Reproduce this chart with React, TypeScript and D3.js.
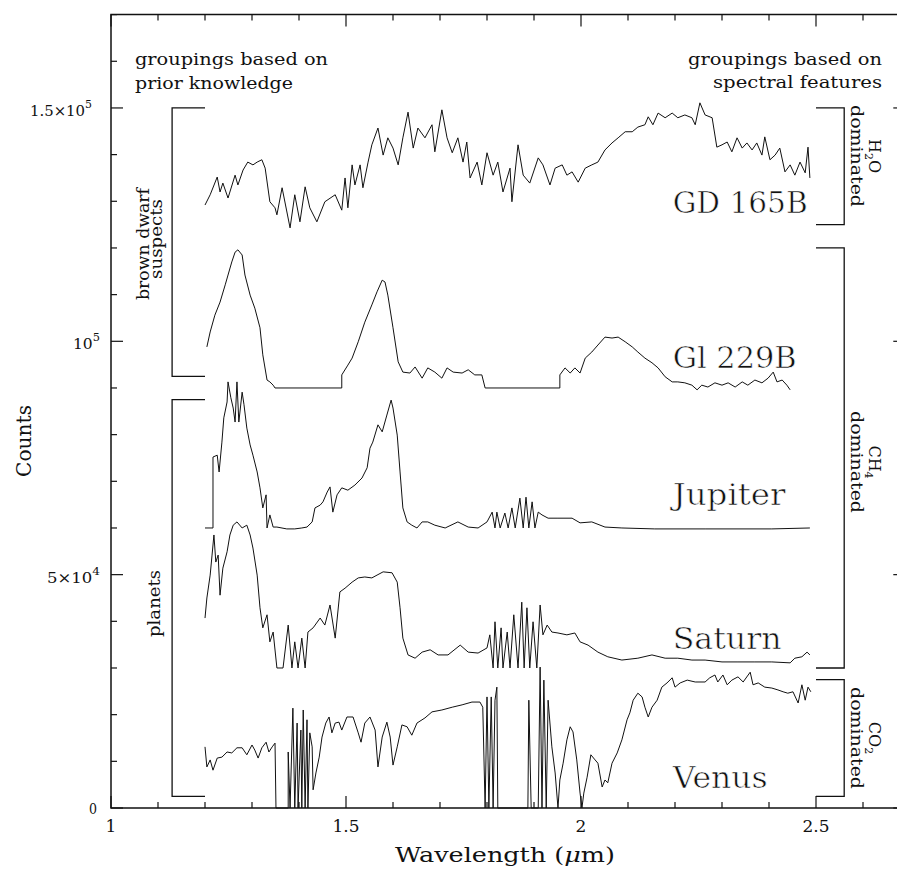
import * as React from "react";
import * as d3 from "d3";

// wavelength (micron), counts (in units of 1000)
const gd165b: [number, number][] = [
  [1.200, 129.2], [1.211, 131.4], [1.226, 135.2], [1.232, 132.0], [1.238, 133.9], [1.249, 130.7],
  [1.264, 135.6], [1.270, 133.5], [1.281, 136.7], [1.291, 138.4], [1.302, 137.8], [1.311, 138.4],
  [1.321, 138.9], [1.328, 137.1], [1.338, 129.9], [1.349, 128.6], [1.353, 127.1], [1.364, 132.9],
  [1.381, 124.3], [1.391, 131.4], [1.402, 125.6], [1.413, 133.1], [1.423, 128.6], [1.438, 125.6],
  [1.455, 129.9], [1.477, 131.4], [1.491, 128.1], [1.498, 135.0], [1.504, 128.6], [1.513, 137.8],
  [1.519, 133.5], [1.530, 137.8], [1.536, 132.9], [1.547, 138.4], [1.555, 142.1], [1.568, 145.7],
  [1.579, 139.9], [1.589, 143.6], [1.600, 141.4], [1.611, 137.8], [1.621, 143.6], [1.632, 149.1],
  [1.643, 141.4], [1.653, 145.7], [1.668, 143.6], [1.683, 146.4], [1.689, 140.6], [1.704, 149.6],
  [1.715, 143.6], [1.726, 140.4], [1.738, 143.6], [1.749, 138.4], [1.757, 142.7], [1.764, 135.0],
  [1.779, 138.4], [1.789, 133.5], [1.800, 140.4], [1.813, 135.6], [1.823, 138.4], [1.834, 132.0],
  [1.849, 137.1], [1.853, 129.9], [1.866, 142.1], [1.877, 135.6], [1.891, 133.9], [1.909, 139.3],
  [1.919, 137.8], [1.934, 133.5], [1.945, 137.1], [1.960, 137.8], [1.970, 135.6], [1.981, 136.3],
  [1.994, 134.1], [2.009, 137.1], [2.023, 137.8], [2.036, 138.4], [2.051, 141.0], [2.066, 142.5],
  [2.079, 143.6], [2.094, 144.9], [2.109, 144.9], [2.121, 145.9], [2.136, 146.4], [2.143, 148.1],
  [2.153, 146.4], [2.164, 148.9], [2.179, 147.9], [2.194, 148.9], [2.206, 147.9], [2.221, 148.5],
  [2.236, 147.9], [2.243, 146.4], [2.253, 151.1], [2.264, 148.5], [2.279, 147.9], [2.289, 141.6],
  [2.300, 142.1], [2.311, 142.7], [2.321, 140.6], [2.332, 143.6], [2.343, 141.4], [2.353, 142.5],
  [2.364, 141.0], [2.374, 142.5], [2.385, 139.9], [2.391, 143.8], [2.402, 138.9], [2.413, 139.9],
  [2.423, 141.4], [2.434, 136.3], [2.445, 137.8], [2.455, 135.6], [2.466, 138.4], [2.477, 136.1],
  [2.483, 141.6], [2.487, 135.0],
];

const gl229b: [number, number][] = [
  [1.204, 98.8], [1.211, 102.0], [1.221, 105.6], [1.232, 108.4], [1.243, 112.1], [1.249, 114.2],
  [1.257, 117.0], [1.264, 119.1], [1.270, 119.6], [1.279, 118.5], [1.285, 114.2], [1.296, 109.9],
  [1.306, 107.1], [1.317, 102.9], [1.323, 97.1], [1.332, 91.7], [1.338, 91.3], [1.345, 90.6],
  [1.349, 90.0], [1.491, 90.0], [1.491, 92.8], [1.504, 94.9], [1.513, 96.4], [1.526, 99.9],
  [1.540, 104.1], [1.555, 107.8], [1.566, 110.6], [1.577, 113.1], [1.583, 112.7], [1.589, 109.9],
  [1.600, 102.9], [1.611, 95.6], [1.621, 93.4], [1.636, 93.2], [1.647, 94.5], [1.662, 92.1],
  [1.674, 94.3], [1.689, 93.4], [1.704, 92.1], [1.715, 94.3], [1.728, 93.4], [1.747, 93.2],
  [1.760, 93.9], [1.774, 92.8], [1.789, 92.8], [1.796, 90.0], [1.955, 90.0], [1.955, 92.8],
  [1.966, 94.3], [1.977, 93.2], [1.987, 94.3], [1.998, 93.2], [2.009, 96.4], [2.023, 97.7],
  [2.036, 99.2], [2.051, 100.9], [2.066, 100.7], [2.079, 100.9], [2.094, 99.9], [2.109, 98.8],
  [2.121, 97.7], [2.136, 96.4], [2.151, 95.4], [2.164, 94.3], [2.179, 92.4], [2.194, 91.3],
  [2.206, 91.3], [2.221, 91.1], [2.236, 90.6], [2.247, 89.6], [2.257, 90.6], [2.270, 90.2],
  [2.285, 91.1], [2.300, 90.6], [2.313, 91.1], [2.328, 90.2], [2.343, 91.3], [2.355, 90.6],
  [2.370, 91.7], [2.385, 91.1], [2.398, 92.1], [2.409, 93.4], [2.417, 91.3], [2.428, 91.7],
  [2.438, 90.6], [2.445, 89.6],
];

const jupiter: [number, number][] = [
  [1.200, 60.0], [1.217, 60.0], [1.217, 75.2], [1.226, 75.6], [1.230, 72.0], [1.236, 78.4],
  [1.240, 83.6], [1.247, 87.0], [1.249, 91.3], [1.255, 87.9], [1.260, 85.7], [1.264, 82.7],
  [1.268, 91.3], [1.272, 82.7], [1.279, 89.1], [1.283, 86.4], [1.289, 81.4], [1.296, 77.8],
  [1.302, 75.6], [1.311, 72.0], [1.317, 68.6], [1.323, 64.3], [1.330, 67.1], [1.332, 60.0],
  [1.338, 62.8], [1.345, 60.2], [1.353, 60.2], [1.374, 59.8], [1.391, 59.8], [1.406, 60.0],
  [1.417, 60.2], [1.428, 61.3], [1.434, 64.3], [1.445, 64.9], [1.451, 65.6], [1.460, 67.7],
  [1.466, 68.8], [1.472, 63.4], [1.481, 67.1], [1.491, 68.6], [1.504, 68.1], [1.519, 69.2],
  [1.534, 70.7], [1.545, 72.9], [1.551, 77.1], [1.557, 78.4], [1.568, 82.1], [1.577, 80.6],
  [1.587, 84.2], [1.596, 87.4], [1.600, 85.7], [1.609, 79.9], [1.615, 72.0], [1.621, 64.3],
  [1.630, 61.3], [1.640, 60.6], [1.651, 60.0], [1.662, 61.3], [1.674, 61.3], [1.689, 60.6],
  [1.711, 60.0], [1.738, 61.3], [1.760, 60.2], [1.781, 60.0], [1.800, 61.3], [1.811, 63.4],
  [1.817, 60.0], [1.821, 63.4], [1.828, 60.0], [1.838, 63.2], [1.845, 60.0], [1.853, 64.3],
  [1.860, 60.0], [1.870, 66.4], [1.877, 60.0], [1.883, 66.6], [1.889, 60.0], [1.896, 65.6],
  [1.902, 60.0], [1.909, 63.4], [1.917, 62.8], [1.930, 62.1], [1.951, 62.1], [1.981, 62.1],
  [1.998, 61.1], [2.023, 61.3], [2.051, 60.2], [2.087, 60.0], [2.157, 59.8], [2.264, 59.8],
  [2.406, 59.8], [2.487, 60.0],
];

const saturn: [number, number][] = [
  [1.200, 40.7], [1.204, 45.0], [1.211, 49.9], [1.215, 54.2], [1.219, 58.5], [1.223, 52.7],
  [1.228, 54.2], [1.232, 45.6], [1.238, 51.4], [1.247, 54.9], [1.253, 58.5], [1.260, 60.6],
  [1.268, 61.3], [1.279, 60.0], [1.289, 60.6], [1.296, 58.5], [1.302, 55.7], [1.311, 49.9],
  [1.317, 42.9], [1.323, 38.6], [1.332, 41.4], [1.338, 35.6], [1.345, 37.7], [1.353, 30.0],
  [1.366, 30.0], [1.377, 39.2], [1.385, 30.0], [1.391, 35.6], [1.398, 30.0], [1.406, 36.4],
  [1.413, 30.0], [1.419, 37.7], [1.430, 38.6], [1.445, 40.7], [1.455, 39.2], [1.466, 43.5],
  [1.477, 36.4], [1.487, 46.3], [1.498, 47.1], [1.513, 48.4], [1.526, 49.3], [1.540, 49.5],
  [1.555, 49.3], [1.566, 49.9], [1.579, 50.6], [1.598, 50.4], [1.609, 48.4], [1.615, 42.9],
  [1.621, 36.4], [1.632, 32.8], [1.647, 32.1], [1.662, 33.4], [1.679, 33.9], [1.696, 32.8],
  [1.717, 32.8], [1.743, 34.9], [1.760, 33.4], [1.781, 33.2], [1.800, 34.3], [1.806, 37.1],
  [1.813, 30.0], [1.817, 39.9], [1.823, 30.0], [1.830, 38.6], [1.834, 30.0], [1.843, 37.7],
  [1.849, 30.0], [1.857, 41.4], [1.866, 30.0], [1.874, 44.1], [1.879, 30.0], [1.885, 42.9],
  [1.891, 30.0], [1.898, 39.9], [1.906, 30.0], [1.913, 43.5], [1.919, 37.1], [1.928, 39.2],
  [1.938, 37.7], [1.951, 37.5], [1.970, 37.1], [1.987, 37.5], [1.998, 35.6], [2.015, 34.9],
  [2.036, 33.4], [2.057, 32.4], [2.087, 31.7], [2.121, 32.1], [2.151, 32.8], [2.179, 32.1],
  [2.206, 32.1], [2.236, 31.7], [2.264, 31.7], [2.300, 31.3], [2.334, 31.3], [2.370, 31.3],
  [2.406, 31.3], [2.445, 31.1], [2.455, 32.1], [2.470, 32.4], [2.481, 33.4], [2.487, 32.8],
];

const venus: [number, number][] = [
  [1.200, 13.1], [1.204, 8.8], [1.211, 10.3], [1.217, 8.1], [1.226, 10.7], [1.236, 10.9],
  [1.247, 12.0], [1.257, 11.8], [1.268, 12.9], [1.279, 12.9], [1.289, 11.4], [1.300, 13.5],
  [1.306, 12.4], [1.313, 10.7], [1.321, 12.9], [1.330, 14.1], [1.336, 12.0], [1.343, 13.1],
  [1.349, 13.9], [1.351, 0], [1.377, 0], [1.377, 12.0], [1.381, 0], [1.387, 21.4], [1.391, 0],
  [1.396, 18.2], [1.398, 0], [1.404, 16.7], [1.406, 0], [1.409, 21.0], [1.413, 0], [1.417, 18.9],
  [1.419, 0], [1.423, 16.1], [1.428, 13.1], [1.430, 3.9], [1.436, 7.5], [1.443, 10.9],
  [1.449, 15.2], [1.457, 18.2], [1.464, 19.5], [1.470, 16.1], [1.477, 18.2], [1.485, 18.4],
  [1.491, 16.7], [1.502, 19.5], [1.515, 19.5], [1.526, 16.1], [1.532, 14.1], [1.540, 18.2],
  [1.551, 19.5], [1.562, 16.7], [1.568, 8.8], [1.577, 15.2], [1.587, 18.4], [1.594, 15.2],
  [1.600, 9.2], [1.609, 13.1], [1.619, 17.8], [1.630, 17.4], [1.640, 15.6], [1.651, 18.2],
  [1.668, 19.3], [1.683, 20.6], [1.704, 21.0], [1.726, 21.6], [1.747, 22.1], [1.768, 22.7],
  [1.785, 22.7], [1.791, 21.6], [1.796, 0], [1.800, 23.8], [1.804, 0], [1.809, 23.8],
  [1.813, 0], [1.817, 23.1], [1.821, 25.9], [1.823, 0], [1.887, 0], [1.889, 23.1], [1.894, 0],
  [1.909, 0], [1.913, 30.2], [1.917, 0], [1.921, 27.4], [1.926, 0], [1.930, 23.1],
  [1.938, 13.1], [1.945, 7.5], [1.951, 0], [1.955, 6.0], [1.962, 9.6], [1.970, 14.6],
  [1.977, 17.4], [1.983, 16.3], [1.991, 10.3], [1.998, 3.2], [2.002, 0], [2.006, 3.2],
  [2.013, 6.6], [2.021, 11.4], [2.030, 10.3], [2.036, 9.6], [2.045, 4.5], [2.051, 6.0],
  [2.057, 5.4], [2.066, 9.6], [2.077, 11.8], [2.087, 14.6], [2.098, 18.9], [2.104, 20.4],
  [2.111, 23.1], [2.121, 24.6], [2.130, 23.8], [2.136, 21.6], [2.143, 19.5], [2.151, 21.6],
  [2.162, 23.1], [2.172, 25.9], [2.183, 26.8], [2.194, 27.9], [2.200, 25.9], [2.211, 26.8],
  [2.226, 27.4], [2.243, 27.0], [2.264, 27.0], [2.274, 27.9], [2.285, 28.5], [2.291, 27.0],
  [2.302, 28.5], [2.311, 26.4], [2.321, 27.4], [2.334, 28.1], [2.345, 27.0], [2.360, 29.1],
  [2.366, 26.4], [2.377, 26.8], [2.391, 25.9], [2.406, 25.7], [2.419, 25.3], [2.430, 24.9],
  [2.440, 24.6], [2.451, 24.9], [2.462, 22.5], [2.470, 26.4], [2.477, 23.1], [2.483, 25.9],
  [2.489, 24.9],
];

const seriesNames = ["GD 165B", "Gl 229B", "Jupiter", "Saturn", "Venus"];
const seriesData = [gd165b, gl229b, jupiter, saturn, venus];
// where each name sits: wavelength, counts (thousands), label width
const labelWave = [2.195, 2.195, 2.195, 2.195, 2.195];
const labelCounts = [127.5, 94.3, 64.9, 34.0, 4.3];
const labelWidth = [135, 124, 113, 109, 95];

const xMajor = [1, 1.5, 2, 2.5];
const xMajorLabels = ["1", "1.5", "2", "2.5"];
const yMajor = [0, 50, 100, 150];
const yMajorLabels: [string, string][] = [["0", ""], ["5×10", "4"], ["10", "5"], ["1.5×10", "5"]];
// label extents: right end, width
const yLabelEnd = [97, 100, 100, 92];
const yLabelWidth = [8, 53, 27, 62];

const font = "'DejaVu Serif', serif";
const ink = "#111";

export default function App() {
  const width = 897;
  const height = 871;

  const x = d3.scaleLinear().domain([1, 2.69]).range([111, 111 + 1.69 * 470]);
  const y = d3.scaleLinear().domain([0, 170]).range([808, 808 - 170 * 4.667]);

  const line = d3.line<[number, number]>().x(d => x(d[0])).y(d => y(d[1]));

  const xMinor = d3.range(10, 27).map(v => v / 10);
  const yMinor = d3.range(0, 171, 10);

  const [x0, x1] = x.range();
  const [y0, y1] = y.range();

  // bracket helpers
  const leftBracket = (top: number, bottom: number) =>
    `M${x(1.2)},${y(top)}H${x(1.13)}V${y(bottom)}H${x(1.2)}`;
  const rightBracket = (top: number, bottom: number) =>
    `M${x(2.5)},${y(top)}H${x(2.56)}V${y(bottom)}H${x(2.5)}`;

  // thin white outline makes the heavy serif look lighter, like the plotter font
  const thin = { stroke: "#fff", strokeWidth: 0.6 };

  return (
    <svg width={width} height={height} style={{ position: "absolute", left: 0, top: 0, background: "#fff", overflow: "hidden" }}
      fontFamily={font}>
      <rect x={0} y={0} width={width} height={height} fill="#fff" />

      {/* frame: left, top, bottom; the right edge lies past the picture */}
      <path d={`M${x1},${y1}H${x0}V${y0}H${x1}`} fill="none" stroke={ink} strokeWidth={1.5} />

      {/* x ticks bottom and top */}
      {xMinor.map((v, i) => {
        const major = xMajor.some(m => Math.abs(m - v) < 1e-6);
        const len = major ? 12 : 6;
        return (
          <g key={"xt" + i} stroke={ink} strokeWidth={1.2}>
            <line x1={x(v)} x2={x(v)} y1={y0} y2={y0 - len} />
            <line x1={x(v)} x2={x(v)} y1={y1} y2={y1 + len} />
          </g>
        );
      })}
      {yMinor.map((v, i) => {
        const major = yMajor.includes(v);
        const len = major ? 12 : 6;
        return (
          <g key={"yt" + i} stroke={ink} strokeWidth={1.2}>
            <line x1={x0} x2={x0 + len} y1={y(v)} y2={y(v)} />
            <line x1={x1} x2={x1 - len} y1={y(v)} y2={y(v)} />
          </g>
        );
      })}

      {/* tick labels */}
      {xMajor.map((v, i) => (
        <text key={"xl" + i} x={x(v)} y={832} textAnchor="middle" fontSize={17} fill={ink}>
          {xMajorLabels[i]}
        </text>
      ))}
      {yMajor.map((v, i) => (
        <text key={"yl" + i} x={yLabelEnd[i] - yLabelWidth[i]} y={y(v) + (v === 0 ? 6 : 8)} fontSize={15} fill={ink}
          textLength={yLabelWidth[i]} lengthAdjust="spacingAndGlyphs">
          {yMajorLabels[i][0]}
          {yMajorLabels[i][1] && (
            <tspan fontSize={11} dy={-8}>{yMajorLabels[i][1]}</tspan>
          )}
        </text>
      ))}

      {/* axis titles */}
      <text transform="translate(31,441) rotate(-90)" textAnchor="middle" fontSize={21} fill={ink}
        textLength={72} lengthAdjust="spacingAndGlyphs">Counts</text>
      <text x={395} y={862} fontSize={21} fill={ink} textLength={220} lengthAdjust="spacingAndGlyphs">
        Wavelength (<tspan fontStyle="italic">μ</tspan>m)
      </text>

      {/* spectra */}
      {seriesData.map((d, i) => (
        <path key={"s" + i} d={line(d) ?? ""} fill="none" stroke={ink} strokeWidth={1} strokeLinejoin="round" />
      ))}

      {/* spectrum names */}
      {seriesNames.map((n, i) => (
        <text key={"n" + i} x={x(labelWave[i])} y={y(labelCounts[i])} fontSize={29} fill={ink} {...thin}
          textLength={labelWidth[i]} lengthAdjust="spacingAndGlyphs">
          {n}
        </text>
      ))}

      {/* groupings */}
      <g stroke={ink} strokeWidth={1.3} fill="none">
        <path d={leftBracket(150, 92.5)} />
        <path d={leftBracket(87.5, 2.5)} />
        <path d={rightBracket(150, 125)} />
        <path d={rightBracket(120, 30)} />
        <path d={rightBracket(27.5, 2.5)} />
      </g>

      <g fontSize={16} fill={ink}>
        <text x={135} y={65} textLength={193} lengthAdjust="spacingAndGlyphs">groupings based on</text>
        <text x={135} y={89} textLength={158} lengthAdjust="spacingAndGlyphs">prior knowledge</text>
        <text x={688} y={65} textLength={194} lengthAdjust="spacingAndGlyphs">groupings based on</text>
        <text x={713} y={88} textLength={169} lengthAdjust="spacingAndGlyphs">spectral features</text>

        <text transform="translate(149,300) rotate(-90)" textLength={112} lengthAdjust="spacingAndGlyphs">brown dwarf</text>
        <text transform="translate(162,279) rotate(-90)" textLength={80} lengthAdjust="spacingAndGlyphs">suspects</text>
        <text transform="translate(160,637) rotate(-90)" textLength={67} lengthAdjust="spacingAndGlyphs">planets</text>

        <text transform="translate(869,156) rotate(90)" textAnchor="middle">
          H<tspan fontSize={11} dy={4}>2</tspan><tspan dy={-4}>O</tspan>
        </text>
        <text transform="translate(851,105) rotate(90)" textLength={102} lengthAdjust="spacingAndGlyphs">dominated</text>
        <text transform="translate(869,462) rotate(90)" textAnchor="middle">
          CH<tspan fontSize={11} dy={4}>4</tspan>
        </text>
        <text transform="translate(851,411) rotate(90)" textLength={102} lengthAdjust="spacingAndGlyphs">dominated</text>
        <text transform="translate(869,738) rotate(90)" textAnchor="middle">
          CO<tspan fontSize={11} dy={4}>2</tspan>
        </text>
        <text transform="translate(851,687) rotate(90)" textLength={102} lengthAdjust="spacingAndGlyphs">dominated</text>
      </g>
    </svg>
  );
}
